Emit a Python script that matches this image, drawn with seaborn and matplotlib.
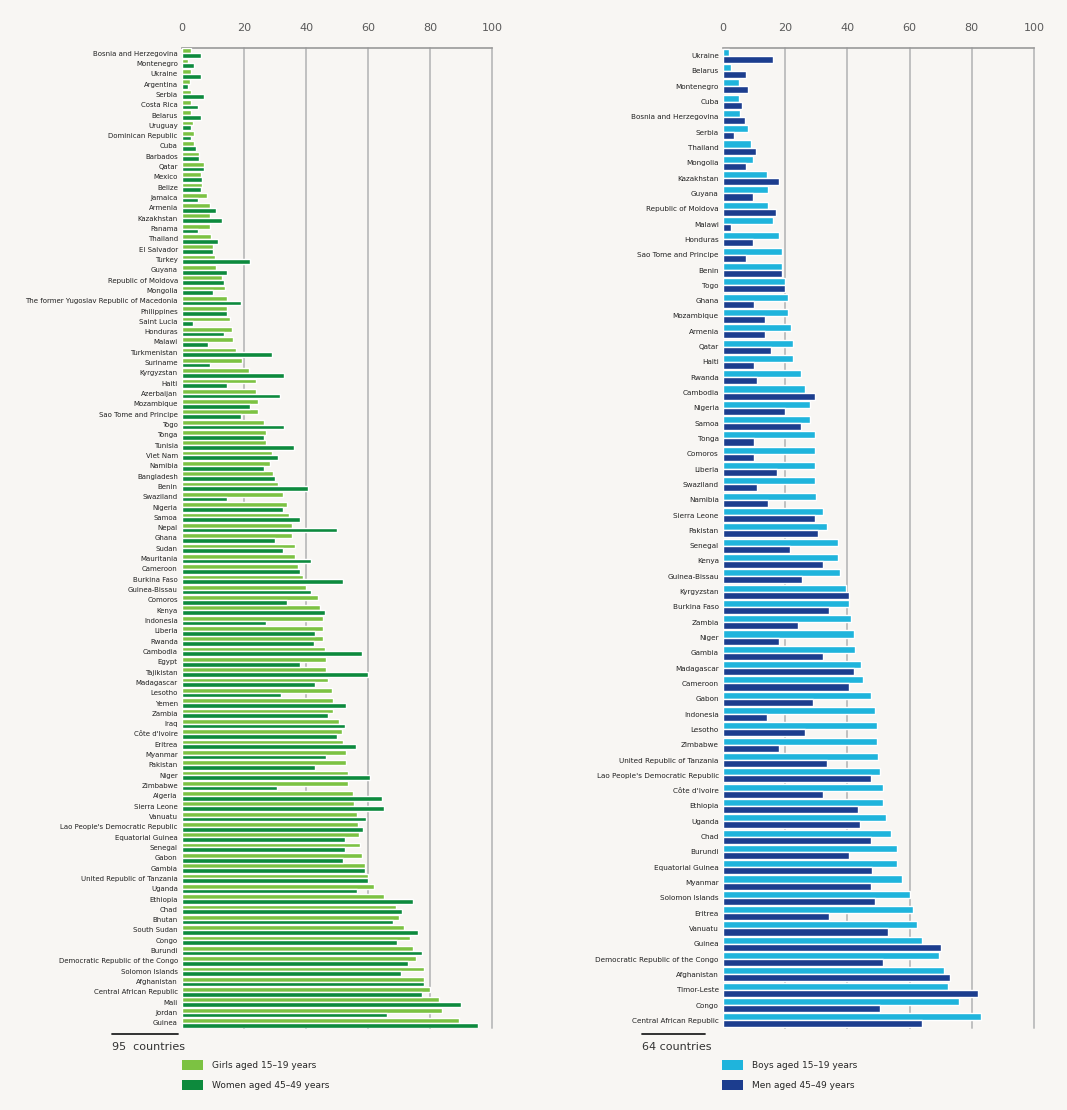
import pandas as pd
import matplotlib.pyplot as plt
import seaborn as sns
from matplotlib.patches import Patch
from matplotlib.lines import Line2D

# ---- data (percent) ----
girls_countries = [
    'Bosnia and Herzegovina', 'Montenegro', 'Ukraine', 'Argentina', 'Serbia', 'Costa Rica',
    'Belarus', 'Uruguay', 'Dominican Republic', 'Cuba', 'Barbados', 'Qatar', 'Mexico',
    'Belize', 'Jamaica', 'Armenia', 'Kazakhstan', 'Panama', 'Thailand', 'El Salvador',
    'Turkey', 'Guyana', 'Republic of Moldova', 'Mongolia',
    'The former Yugoslav Republic of Macedonia', 'Philippines', 'Saint Lucia', 'Honduras',
    'Malawi', 'Turkmenistan', 'Suriname', 'Kyrgyzstan', 'Haiti', 'Azerbaijan', 'Mozambique',
    'Sao Tome and Principe', 'Togo', 'Tonga', 'Tunisia', 'Viet Nam', 'Namibia', 'Bangladesh',
    'Benin', 'Swaziland', 'Nigeria', 'Samoa', 'Nepal', 'Ghana', 'Sudan', 'Mauritania',
    'Cameroon', 'Burkina Faso', 'Guinea-Bissau', 'Comoros', 'Kenya', 'Indonesia', 'Liberia',
    'Rwanda', 'Cambodia', 'Egypt', 'Tajikistan', 'Madagascar', 'Lesotho', 'Yemen', 'Zambia',
    'Iraq', "Côte d'Ivoire", 'Eritrea', 'Myanmar', 'Pakistan', 'Niger', 'Zimbabwe', 'Algeria',
    'Sierra Leone', 'Vanuatu', "Lao People's Democratic Republic", 'Equatorial Guinea',
    'Senegal', 'Gabon', 'Gambia', 'United Republic of Tanzania', 'Uganda', 'Ethiopia', 'Chad',
    'Bhutan', 'South Sudan', 'Congo', 'Burundi', 'Democratic Republic of the Congo',
    'Solomon Islands', 'Afghanistan', 'Central African Republic', 'Mali', 'Jordan', 'Guinea',
]
girls_15_19 = [
    3, 2, 3, 2.5, 3, 3, 3, 3.5, 4, 4, 5.5, 7, 6, 6.5, 8, 9, 9, 9, 9.5, 10,
    10.5, 11, 13, 14, 14.5, 14.5, 15.5, 16, 16.5, 17.5, 19.5, 21.5, 24, 24, 24.5,
    24.5, 26.5, 27, 27, 29, 28.5, 29.5, 31, 32.5, 34, 34.5, 35.5, 35.5, 36.5, 36.5,
    37.5, 39, 40, 44, 44.5, 45.5, 45.5, 45.5, 46, 46.5, 46.5, 47, 48.5, 48.8, 48.8,
    50.5, 51.5, 52, 53, 53, 53.5, 53.5, 55, 55.5, 56.5, 56.8, 57, 57.5, 58, 59,
    60, 62, 65, 69, 70, 71.5, 73.5, 74.5, 75.5, 78, 78, 80, 83, 84, 89.5,
]
women_45_49 = [
    6, 4, 6, 2, 7, 5, 6, 3, 3, 4.5, 5.5, 7, 6.5, 6, 5, 11, 13, 5, 11.5, 10,
    22, 14.5, 13.5, 10, 19, 14.5, 3.5, 13.5, 8.5, 29, 9, 33, 14.5, 31.5, 22,
    19, 33, 26.5, 36, 31, 26.5, 30, 40.5, 14.5, 32.5, 38, 50, 30, 32.5, 41.5,
    38, 52, 41.5, 34, 46, 27, 43, 42.5, 58, 38, 60, 43, 32, 53, 47,
    52.5, 50, 56, 46.5, 43, 60.5, 30.5, 64.5, 65, 59.5, 58.5, 52.5, 52.5, 52, 59,
    60, 56.5, 74.5, 71, 68, 76, 69.5, 77.5, 73, 70.5, 78, 77.5, 90, 66, 95.5,
]

boys_countries = [
    'Ukraine', 'Belarus', 'Montenegro', 'Cuba', 'Bosnia and Herzegovina', 'Serbia', 'Thailand',
    'Mongolia', 'Kazakhstan', 'Guyana', 'Republic of Moldova', 'Malawi', 'Honduras',
    'Sao Tome and Principe', 'Benin', 'Togo', 'Ghana', 'Mozambique', 'Armenia', 'Qatar', 'Haiti',
    'Rwanda', 'Cambodia', 'Nigeria', 'Samoa', 'Tonga', 'Comoros', 'Liberia', 'Swaziland',
    'Namibia', 'Sierra Leone', 'Pakistan', 'Senegal', 'Kenya', 'Guinea-Bissau', 'Kyrgyzstan',
    'Burkina Faso', 'Zambia', 'Niger', 'Gambia', 'Madagascar', 'Cameroon', 'Gabon', 'Indonesia',
    'Lesotho', 'Zimbabwe', 'United Republic of Tanzania', "Lao People's Democratic Republic",
    "Côte d'Ivoire", 'Ethiopia', 'Uganda', 'Chad', 'Burundi', 'Equatorial Guinea', 'Myanmar',
    'Solomon Islands', 'Eritrea', 'Vanuatu', 'Guinea', 'Democratic Republic of the Congo',
    'Afghanistan', 'Timor-Leste', 'Congo', 'Central African Republic',
]
boys_15_19 = [
    2, 2.5, 5, 5, 5.5, 8, 9, 9.5, 14, 14.5, 14.5, 16, 18, 19, 19, 20, 21, 21, 22,
    22.5, 22.5, 25, 26.5, 28, 28, 29.5, 29.5, 29.5, 29.5, 30, 32, 33.5, 37, 37, 37.5,
    39.5, 40.5, 41, 42, 42.5, 44.5, 45, 47.5, 49, 49.5, 49.5, 50, 50.5, 51.5, 51.5,
    52.5, 54, 56, 56, 57.5, 60, 61, 62.5, 64, 69.5, 71, 72.5, 76, 83,
]
men_45_49 = [
    16, 7.5, 8, 6, 7, 3.5, 10.5, 7.5, 18, 9.5, 17, 2.5, 9.5, 7.5, 19, 20, 10, 13.5,
    13.5, 15.5, 10, 11, 29.5, 20, 25, 10, 10, 17.5, 11, 14.5, 29.5, 30.5, 21.5, 32,
    25.5, 40.5, 34, 24, 18, 32, 42, 40.5, 29, 14, 26.5, 18, 33.5, 47.5, 32, 43.5,
    44, 47.5, 40.5, 48, 47.5, 49, 34, 53, 70, 51.5, 73, 82, 50.5, 64,
]

ticks = [0, 20, 40, 60, 80, 100]

BG = '#f8f6f3'
GIRLS, WOMEN = '#7cc242', '#0d8a3d'
BOYS, MEN = '#1fb4dc', '#1c3d8e'

W, H = 1067, 1110


def long_frame(countries, young, old, young_label, old_label):
    df = pd.DataFrame({'country': countries, young_label: young, old_label: old})
    return df.melt(id_vars='country', var_name='group', value_name='percent')


def draw_panel(ax, df, colors, label_size):
    sns.barplot(data=df, x='percent', y='country', hue='group', palette=colors,
                orient='h', width=0.92, saturation=1, legend=False, ax=ax, zorder=3)
    ax.set_xlim(0, 100)
    ax.set_xticks(ticks)
    ax.xaxis.tick_top()
    ax.tick_params(axis='x', length=0, pad=11, labelsize=8, labelcolor='#5a5a5a')
    ax.tick_params(axis='y', length=0, pad=3, labelsize=label_size, labelcolor='#222222')
    ax.set_xlabel('')
    ax.set_ylabel('')
    ax.set_facecolor(BG)
    for t in ticks[1:]:
        ax.axvline(t, color='#c0c0c0', lw=1.4, zorder=1, clip_on=False)
    for side in ['right', 'bottom', 'left']:
        ax.spines[side].set_visible(False)
    ax.spines['top'].set_color('#9a9a9a')
    ax.spines['top'].set_linewidth(1.2)


sns.set_style('white')
plt.rcParams['font.family'] = ['DejaVu Sans']

fig = plt.figure(figsize=(W / 100, H / 100), dpi=100, facecolor=BG)

top = 1 - 48 / H
bottom = 1 - 1028 / H
ax_l = fig.add_axes([182 / W, bottom, (492 - 182) / W, top - bottom])
ax_r = fig.add_axes([723 / W, bottom, (1034 - 723) / W, top - bottom])

girls_df = long_frame(girls_countries, girls_15_19, women_45_49,
                      'Girls aged 15–19 years', 'Women aged 45–49 years')
boys_df = long_frame(boys_countries, boys_15_19, men_45_49,
                     'Boys aged 15–19 years', 'Men aged 45–49 years')

draw_panel(ax_l, girls_df, [GIRLS, WOMEN], 5)
draw_panel(ax_r, boys_df, [BOYS, MEN], 5.2)

# country counts under each panel
for x0, x1, txt in [(112, 178, '95  countries'), (642, 705, '64 countries')]:
    fig.add_artist(Line2D([x0 / W, x1 / W], [1 - 1034 / H] * 2,
                          transform=fig.transFigure, color='#222222', lw=1.3))
    fig.text(x0 / W, 1 - 1047 / H, txt, fontsize=8, color='#333333', va='center')

# legends
for x, labels, colors in [(178, ['Girls aged 15–19 years', 'Women aged 45–49 years'], [GIRLS, WOMEN]),
                          (718, ['Boys aged 15–19 years', 'Men aged 45–49 years'], [BOYS, MEN])]:
    handles = [Patch(facecolor=c, edgecolor='none') for c in colors]
    fig.legend(handles, labels, loc='upper left', bbox_to_anchor=(x / W, 1 - 1056 / H),
               frameon=False, fontsize=6.5, handlelength=2.4, handleheight=1.4,
               labelspacing=1.1, handletextpad=1.0, borderaxespad=0)

fig.savefig('out.png', dpi=100, facecolor=BG)
